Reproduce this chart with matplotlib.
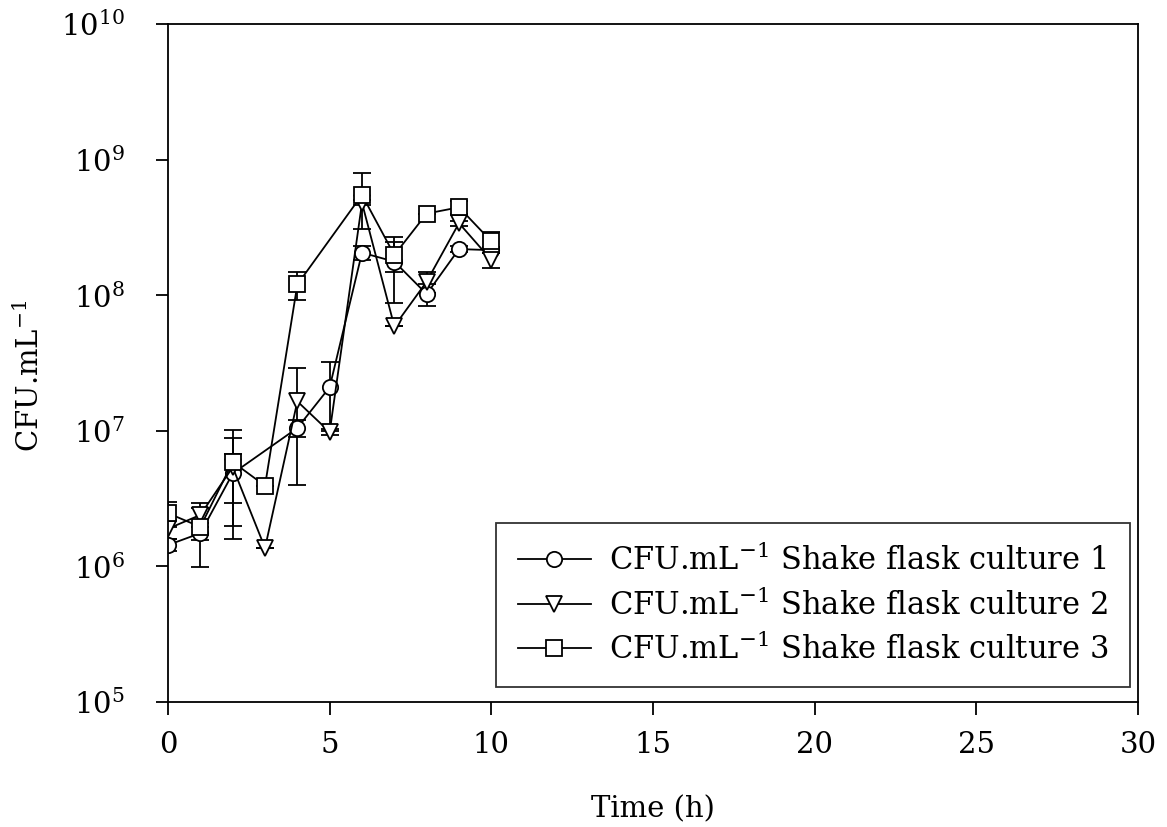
import numpy as np
import matplotlib
matplotlib.use("Agg")
import matplotlib.pyplot as plt
from matplotlib.lines import Line2D

plt.rcParams['font.family'] = ['DejaVu Serif']
plt.rcParams['mathtext.fontset'] = 'dejavuserif'

# time points (h)
t1 = [0, 1, 2, 4, 5, 6, 7, 8, 9, 10]
t2 = [0, 1, 2, 3, 4, 5, 6, 7, 8, 9, 10]
t3 = [0, 1, 2, 3, 4, 6, 7, 8, 9, 10]

# culture 1 (circles)
cfu1 = [1.44e6, 1.76e6, 4.85e6, 1.05e7, 2.1e7, 2.06e8, 1.77e8, 1.02e8, 2.19e8, 2.15e8]
err1 = [1.5e5, 2.0e5, 1.9e6, 1.5e6, 1.1e7, 2.5e7, 9.0e7, 1.8e7, 1.0e7, 1.0e7]

# culture 2 (triangles)
cfu2 = [1.9e6, 2.4e6, 5.4e6, 1.37e6, 1.65e7, 9.8e6, 4.8e8, 5.9e7, 1.26e8, 3.4e8, 1.82e8]
err2 = [3.0e5, 3.0e5, 3.4e6, 0, 1.25e7, 5.0e5, 2.0e7, 0, 2.2e7, 1.5e7, 2.4e7]

# culture 3 (squares)
cfu3 = [2.47e6, 1.96e6, 5.9e6, 3.94e6, 1.2e8, 5.5e8, 1.98e8, 4.0e8, 4.45e8, 2.5e8]
err3 = [5.0e5, 9.7e5, 4.3e6, 0, 2.8e7, 2.4e8, 5.0e7, 0, 5.0e7, 4.5e7]

labels = [r'CFU.mL$^{\mathregular{-1}}$ Shake flask culture 1',
          r'CFU.mL$^{\mathregular{-1}}$ Shake flask culture 2',
          r'CFU.mL$^{\mathregular{-1}}$ Shake flask culture 3']

fig = plt.figure(figsize=(11.67, 8.27), dpi=100)
ax = fig.add_axes([0.144, 0.151, 0.831, 0.820])

lw = 1.3
series = [(t1, cfu1, err1, 'o'), (t2, cfu2, err2, 'v'), (t3, cfu3, err3, 's')]
handles = []
for (t, y, e, m), lab in zip(series, labels):
    ax.errorbar(t, y, yerr=e, marker=m, color='black', mfc='white', mec='black',
                ms=11, mew=lw, lw=lw, elinewidth=lw, capsize=6.5, capthick=lw)
    handles.append(Line2D([], [], marker=m, color='black', mfc='white',
                          mec='black', ms=11, mew=lw, lw=lw, label=lab))

ax.set_yscale('log')
ax.set_ylim(1e5, 1e10)
ax.set_xlim(0, 30)
ax.set_xticks([0, 5, 10, 15, 20, 25, 30])
ax.yaxis.set_minor_locator(matplotlib.ticker.NullLocator())
ax.tick_params(axis='both', which='major', direction='out', length=9, width=lw,
               labelsize=21, top=False, right=False)
ax.tick_params(axis='x', pad=12)
ax.tick_params(axis='y', pad=22)
for s in ax.spines.values():
    s.set_linewidth(lw)

ax.set_xlabel('Time (h)', fontsize=21)
ax.xaxis.set_label_coords(0.5, -0.138)
ax.set_ylabel(r'CFU.mL$^{\mathregular{-1}}$', fontsize=21)
ax.yaxis.set_label_coords(-0.127, 0.482)

leg = ax.legend(handles=handles, loc='lower right', fontsize=22, frameon=True,
                fancybox=False, edgecolor='black', handlelength=2.4,
                handletextpad=0.6, borderpad=0.7, labelspacing=0.38,
                borderaxespad=0, bbox_to_anchor=(0.9918, 0.022))
leg.get_frame().set_linewidth(lw)

fig.savefig('out.png', dpi=100)
